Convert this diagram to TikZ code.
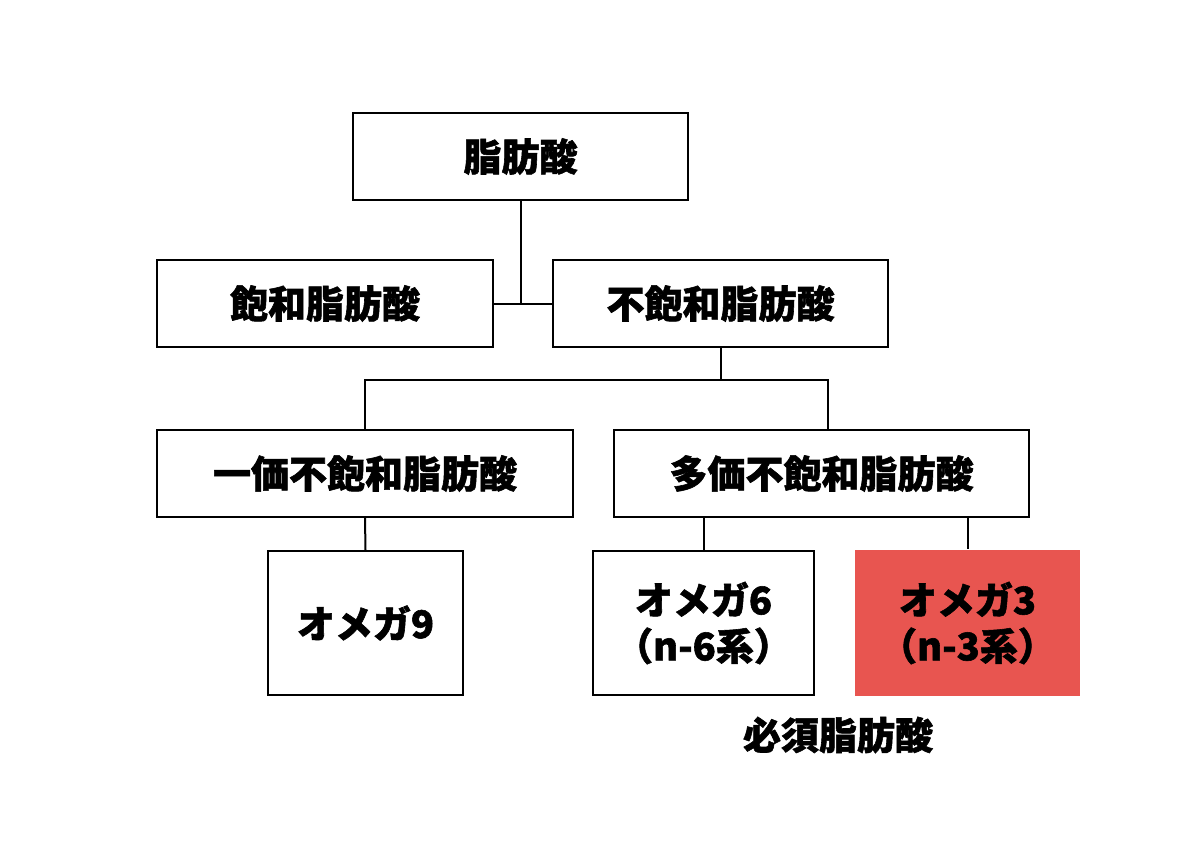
\documentclass[tikz,border=0pt]{standalone}
\usepackage{fontspec}
\setmainfont{Noto Sans CJK JP}[FakeBold=1.5]
\definecolor{omegared}{HTML}{E85550}
\tikzset{
	box/.style={draw, line width=2pt, minimum height=87pt, inner sep=0pt, font=\fontsize{38}{46}\selectfont\bfseries},
	link/.style={line width=2pt}
}
\begin{document}
\begin{tikzpicture}[x=1pt,y=-1pt]
				\useasboundingbox (0,0) rectangle (1200,844);
				% boxes
				\node (fa) [box, minimum width=335pt] at (520.5,156.5) {脂肪酸};
				\node (sat) [box, minimum width=336pt] at (325,303.5) {飽和脂肪酸};
				\node (unsat) [box, minimum width=335pt] at (720.5,303.5) {不飽和脂肪酸};
				\node (mono) [box, minimum width=416pt] at (365,473.5) {一価不飽和脂肪酸};
				\node (poly) [box, minimum width=415pt] at (821.5,473.5) {多価不飽和脂肪酸};
				\node (om9) [box, minimum width=195pt, minimum height=144pt] at (365.5,623) {オメガ9};
				\node (om6) [box, minimum width=221pt, minimum height=144pt, align=center] at (703.5,623) {オメガ6\\（n-6系）};
				\node (om3) [box, draw=none, fill=omegared, minimum width=225pt, minimum height=146pt, align=center] at (967.5,623) {オメガ3\\（n-3系）};
				\node (ess) [font=\fontsize{38}{46}\selectfont\bfseries] at (838,735) {必須脂肪酸};
				% connectors
				\draw [link] (fa.south) -- (fa.south |- sat.east);
				\draw [link] (sat.east) -- (unsat.west);
				\draw [link] (unsat.south) -- (720.5,380);
				\coordinate (right) at (828,380);
				\draw [link] (mono.north) -- (mono.north |- right) -- (right) -- (right |- poly.north);
				\draw [link] (mono.south) -- (om9.north);
				\draw [link] (poly.south -| om6.north) -- (om6.north);
				\draw [link] (poly.south -| om3.north) -- (om3.north);
			\end{tikzpicture}
\end{document}
